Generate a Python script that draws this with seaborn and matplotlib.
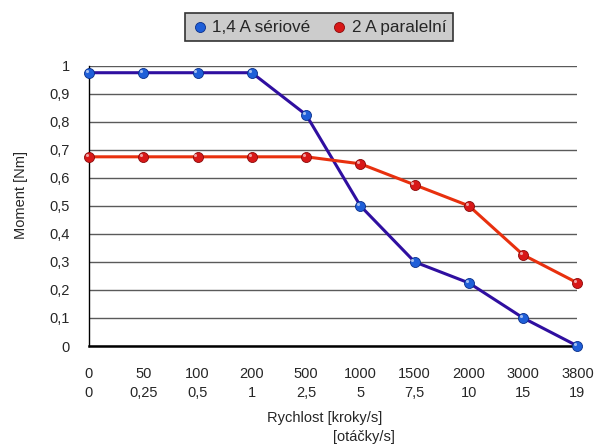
import matplotlib
matplotlib.use("Agg")
import matplotlib.pyplot as plt
import pandas as pd
import seaborn as sns

steps = ["0", "50", "100", "200", "500", "1000", "1500", "2000", "3000", "3800"]
revs = ["0", "0,25", "0,5", "1", "2,5", "5", "7,5", "10", "15", "19"]
serial = [0.975, 0.975, 0.975, 0.975, 0.825, 0.5, 0.3, 0.225, 0.1, 0.0]
parallel = [0.675, 0.675, 0.675, 0.675, 0.675, 0.65, 0.575, 0.5, 0.325, 0.225]
series_names = ["1,4 A sériové", "2 A paralelní"]

sns.set_theme(style="white")
plt.rcParams["font.family"] = ["Liberation Sans", "DejaVu Sans"]
plt.rcParams["font.size"] = 10.5

df = pd.DataFrame({
    "pos": list(range(len(steps))) * 2,
    "moment": serial + parallel,
    "serie": [series_names[0]] * len(steps) + [series_names[1]] * len(steps),
})

fig = plt.figure(figsize=(5.94, 4.44), dpi=100)
ax = fig.add_axes([0.1498, 0.2207, 0.8224, 0.6313])

line_colors = {series_names[0]: "#2f0fa0", series_names[1]: "#e8300e"}
dot_colors = {series_names[0]: "#1f5fd8", series_names[1]: "#d81818"}
dot_edges = {series_names[0]: "#0a2f8a", series_names[1]: "#8a0a0a"}

sns.lineplot(data=df, x="pos", y="moment", hue="serie", palette=line_colors,
             linewidth=2.2, legend=False, ax=ax, zorder=3)
for name, grp in df.groupby("serie"):
    ax.scatter(grp["pos"], grp["moment"], s=52, color=dot_colors[name],
               edgecolor=dot_edges[name], linewidth=0.6, zorder=4, clip_on=False,
               label=name)
    # small highlight to suggest the shiny sphere markers
    ax.scatter(grp["pos"] - 0.04, grp["moment"] + 0.007, s=5, color="white",
               alpha=0.6, linewidth=0, zorder=5, clip_on=False)

ax.set_xlim(0, len(steps) - 1)
ax.set_ylim(0, 1)
ax.set_xticks(range(len(steps)))
ax.set_xticklabels([f"{a}\n{b}" for a, b in zip(steps, revs)], linespacing=1.45)
yt = [i / 10 for i in range(11)]
ax.set_yticks(yt)
ax.set_yticklabels([("%g" % v).replace(".", ",") for v in yt])
ax.grid(axis="y", color="#5a5a5a", linewidth=1.0)
ax.set_axisbelow(True)
for s in ["top", "right"]:
    ax.spines[s].set_visible(False)
ax.spines["left"].set_color("black")
ax.spines["left"].set_linewidth(1.0)
ax.spines["bottom"].set_color("black")
ax.spines["bottom"].set_linewidth(1.8)
ax.tick_params(axis="x", direction="out", length=7, width=1, color="#333333",
               labelsize=10.5, pad=8)
ax.tick_params(axis="y", direction="out", length=8, width=1, color="#333333",
               labelsize=10.5, pad=6)
ax.set_xlabel("")
ax.set_ylabel("")

fig.text(0.036, 0.561, "Moment [Nm]", rotation=90, ha="center", va="center",
         fontsize=10.5)
fig.text(0.546, 0.0586, "Rychlost [kroky/s]", ha="center", va="center",
         fontsize=10.5)
fig.text(0.665, 0.016, "[otáčky/s]", ha="right", va="center", fontsize=10.5)

leg = fig.legend(loc="center", bbox_to_anchor=(0.537, 0.939), ncol=2,
                 frameon=True, fancybox=False, fontsize=12.3, handletextpad=0.3,
                 handlelength=0.9, columnspacing=1.2, markerscale=1.0,
                 borderpad=0.4, borderaxespad=0)
leg.get_frame().set_facecolor("#cccccc")
leg.get_frame().set_edgecolor("#333333")
leg.get_frame().set_linewidth(1.2)
leg.get_frame().set_alpha(1)

fig.savefig("out.png", dpi=100)
